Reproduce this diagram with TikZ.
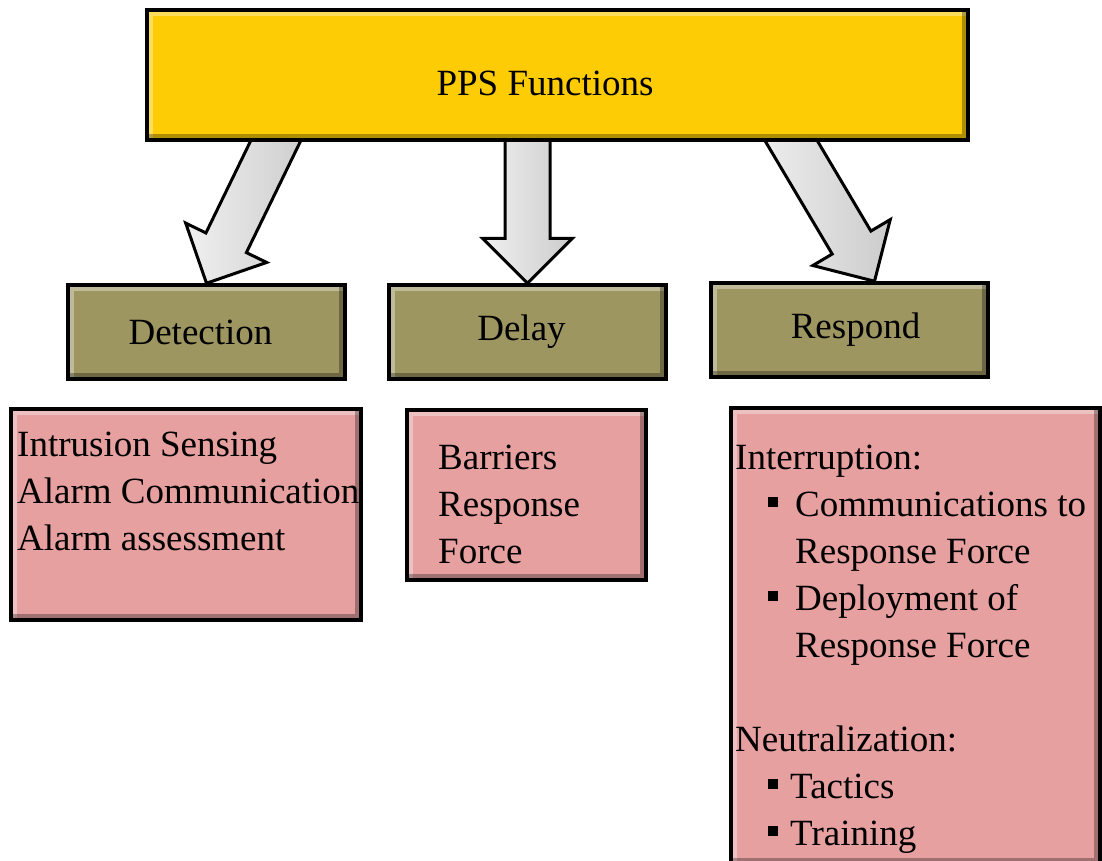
\documentclass[tikz,border=0pt]{standalone}
\usepackage{fontspec}
\setmainfont{Liberation Serif}
\usetikzlibrary{calc,backgrounds}

\definecolor{ppsyellow}{RGB}{253,204,5}
\definecolor{funcolive}{RGB}{157,150,96}
\definecolor{listpink}{RGB}{230,160,160}

\newcommand{\blockarrow}[2]{%
  \coordinate (t) at ($(#2)!1.25!(#1)$);
  \coordinate (h) at ($(#2)!45pt!(#1)$);
  \draw[fatarrow] ($(t)!22.5pt!90:(#2)$) -- ($(h)!22.5pt!90:(#2)$)
    -- ($(h)!45pt!90:(#2)$) -- (#2) -- ($(h)!45pt!-90:(#2)$)
    -- ($(h)!22.5pt!-90:(#2)$) -- ($(t)!22.5pt!-90:(#2)$) -- cycle;}
\newcommand{\sqbul}{\rule[10pt]{10pt}{10pt}}

\begin{document}
\begin{tikzpicture}[x=1pt,y=-1pt,
    every node/.style={font=\fontsize{37}{47}\selectfont},
    box/.style={draw,line width=3.5pt,inner sep=0pt,
      path picture={
        \draw[white,opacity=.35,line width=12pt]
          (path picture bounding box.south west) |- (path picture bounding box.north east);
        \draw[black,opacity=.3,line width=12pt]
          (path picture bounding box.south west) -| (path picture bounding box.north east);}},
    listtext/.style={anchor=north west,align=left,inner sep=0pt},
    fatarrow/.style={draw,line width=3pt,line join=miter,
      left color=gray!12,middle color=white,right color=gray!40}]

    \useasboundingbox (0,0) rectangle (1102,861);

    \node[box,fill=ppsyellow,minimum width=821pt,minimum height=130pt] (PPS) at (557.5,75) {};
    \node (PPSt) at (545,83) {PPS Functions};

    \node[box,fill=funcolive,minimum width=277pt,minimum height=94pt] (Det) at (206.5,332) {Detection\hspace*{12pt}};
    \node[box,fill=funcolive,minimum width=277pt,minimum height=94pt] (Del) at (527.5,332) {Delay\hspace*{12pt}};
    \node[box,fill=funcolive,minimum width=277pt,minimum height=94pt] (Res) at (849.5,330) {\hspace*{12pt}Respond};

    \node[box,fill=listpink,minimum width=350pt,minimum height=211pt] (DetL) at (186,514.5) {};
    \node[box,fill=listpink,minimum width=239pt,minimum height=170pt] (DelL) at (526.5,495) {};
    \node[box,fill=listpink,minimum width=369pt,minimum height=456pt] (ResL) at (915.5,636) {};

    \node[listtext] (DetT) at (17,432) {Intrusion Sensing\\Alarm Communication\\Alarm assessment};
    \node[listtext] (DelT) at (438,445) {Barriers\\Response\\Force};
    \node[listtext] (ResT) at (735,445) {Interruption:\\
      \hspace*{33pt}\sqbul\hspace{17pt}Communications to\\
      \hspace*{60pt}Response Force\\
      \hspace*{33pt}\sqbul\hspace{17pt}Deployment of\\
      \hspace*{60pt}Response Force\\[47pt]
      Neutralization:\\
      \hspace*{33pt}\sqbul\hspace{12pt}Tactics\\
      \hspace*{33pt}\sqbul\hspace{12pt}Training};

    \coordinate (s1) at ($(PPS.south west)+(130,0)$);
    \coordinate (s2) at (Del.north |- PPS.south);
    \coordinate (s3) at ($(PPS.south east)+(-178,0)$);
    \coordinate (r3) at ($(Res.north)+(25,0)$);

    \begin{scope}[on background layer]
      \blockarrow{s1}{Det.north}
      \blockarrow{s2}{Del.north}
      \blockarrow{s3}{r3}
    \end{scope}
\end{tikzpicture}
\end{document}
